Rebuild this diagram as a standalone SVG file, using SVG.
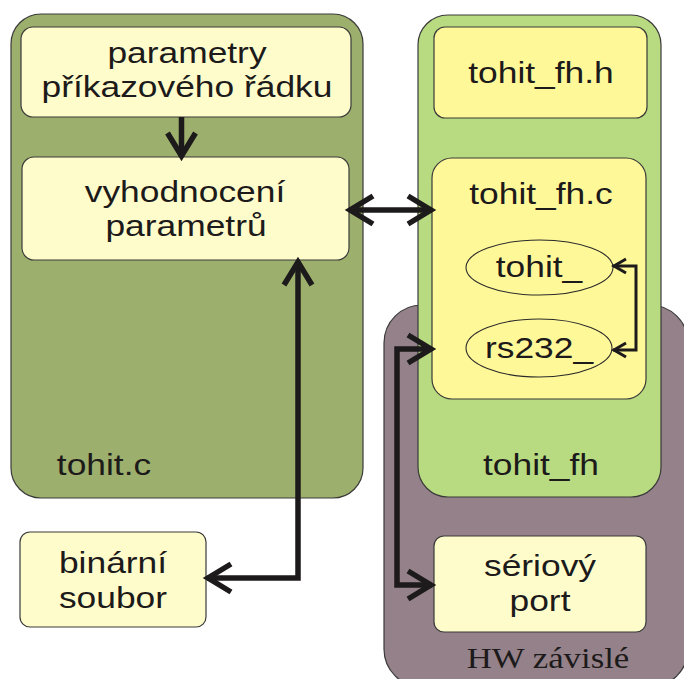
<svg xmlns="http://www.w3.org/2000/svg" width="684" height="679" viewBox="0 0 684 679">
  <defs>
    <style>
      .frame { stroke: #3a3a3a; stroke-width: 1.2; }
      .olive { fill: #9caf6c; }
      .lime { fill: #b8da80; }
      .mauve { fill: #948189; }
      .pale { fill: #fffccb; }
      .yellow { fill: #fff899; }
      .oval { fill: none; stroke: #2a2a2a; stroke-width: 1.1; }
      .lbl { font-family: "Liberation Sans", Arial, sans-serif; font-size: 29px; fill: #1c1a1a; text-anchor: middle; }
      .serif { font-family: "Liberation Serif", "Times New Roman", serif; font-size: 29px; fill: #1c1a1a; text-anchor: middle; }
      .wire { fill: none; stroke: #1c1a1a; stroke-width: 5.5; }
      .thin { fill: none; stroke: #1c1a1a; stroke-width: 3; }
    </style>
    <marker id="chev" markerUnits="userSpaceOnUse" viewBox="-30 -20 34 40" refX="0" refY="0" markerWidth="34" markerHeight="40" orient="auto-start-reverse" overflow="visible">
      <path d="M-24,-14 L-1,0 L-24,14" fill="none" stroke="#1c1a1a" stroke-width="5.5"/>
    </marker>
    <marker id="chev-s" markerUnits="userSpaceOnUse" viewBox="-16 -10 18 20" refX="0" refY="0" markerWidth="18" markerHeight="20" orient="auto-start-reverse" overflow="visible">
      <path d="M-13,-7 L-1,0 L-13,7" fill="none" stroke="#1c1a1a" stroke-width="3"/>
    </marker>
  </defs>

  <!-- hardware dependent region (drawn first, partly covered) -->
  <g id="hw">
    <rect class="mauve frame" x="384" y="305" width="304" height="382" rx="38"/>
    <text class="serif" transform="translate(548 668) scale(1.2 1)">HW závislé</text>
  </g>

  <!-- tohit.c module -->
  <g id="tohit-c">
    <rect class="olive frame" x="11" y="14" width="352" height="484" rx="30"/>
    <text class="lbl" transform="translate(104 475) scale(1.22 1)">tohit.c</text>
  </g>

  <g id="cmdline">
    <rect class="pale frame" x="21" y="27" width="330" height="90" rx="12"/>
    <text class="lbl" transform="translate(187 63) scale(1.22 1)">parametry</text>
    <text class="lbl" transform="translate(187 97) scale(1.22 1)">příkazového řádku</text>
  </g>

  <g id="eval">
    <rect class="pale frame" x="22" y="157" width="327" height="103" rx="12"/>
    <text class="lbl" transform="translate(185 202) scale(1.22 1)">vyhodnocení</text>
    <text class="lbl" transform="translate(186 236) scale(1.22 1)">parametrů</text>
  </g>

  <!-- tohit_fh module -->
  <g id="tohit-fh">
    <rect class="lime frame" x="418" y="15" width="243" height="482" rx="30"/>
    <text class="lbl" transform="translate(541 475) scale(1.22 1)">tohit_fh</text>
  </g>

  <g id="fh-h">
    <rect class="yellow frame" x="434" y="27" width="213" height="91" rx="11"/>
    <text class="lbl" transform="translate(541 83) scale(1.22 1)">tohit_fh.h</text>
  </g>

  <g id="fh-c">
    <rect class="yellow frame" x="432" y="158" width="214" height="241" rx="20"/>
    <text class="lbl" transform="translate(541 204) scale(1.22 1)">tohit_fh.c</text>
  </g>

  <g id="fn-tohit">
    <ellipse class="oval" cx="539.5" cy="267.5" rx="73.5" ry="27.5"/>
    <text class="lbl" transform="translate(539 277) scale(1.22 1)">tohit_</text>
  </g>

  <g id="fn-rs232">
    <ellipse class="oval" cx="539" cy="348" rx="73" ry="29"/>
    <text class="lbl" transform="translate(539 358) scale(1.22 1)">rs232_</text>
  </g>

  <g id="binfile">
    <rect class="pale frame" x="20" y="532" width="186" height="95" rx="10"/>
    <text class="lbl" transform="translate(113 573) scale(1.22 1)">binární</text>
    <text class="lbl" transform="translate(113 608) scale(1.22 1)">soubor</text>
  </g>

  <g id="serial">
    <rect class="pale frame" x="434" y="536" width="212" height="96" rx="10"/>
    <text class="lbl" transform="translate(540 576) scale(1.22 1)">sériový</text>
    <text class="lbl" transform="translate(540 611) scale(1.22 1)">port</text>
  </g>

  <!-- connectors -->
  <g id="connectors">
    <path class="wire" d="M181.5,117 V157" marker-end="url(#chev)"/>
    <path class="wire" d="M349,210 H432" marker-start="url(#chev)" marker-end="url(#chev)"/>
    <path class="wire" d="M298,261 V578 H207" marker-start="url(#chev)" marker-end="url(#chev)"/>
    <path class="wire" d="M432,349 H397 V585 H432" marker-start="url(#chev)" marker-end="url(#chev)"/>
    <path class="thin" d="M613,266 H636 V350 H613" marker-start="url(#chev-s)" marker-end="url(#chev-s)"/>
  </g>
</svg>
